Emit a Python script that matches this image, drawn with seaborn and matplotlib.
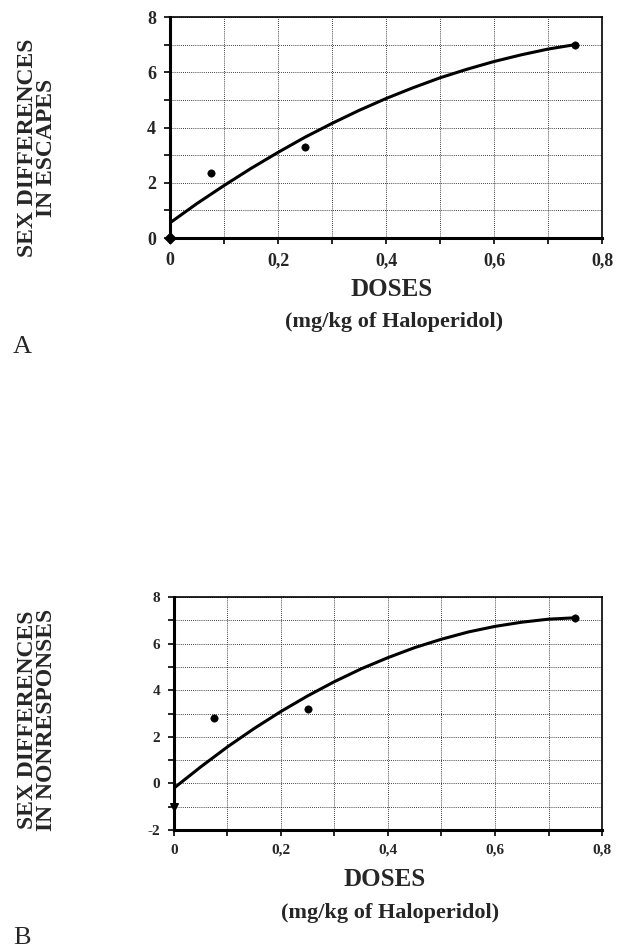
import numpy as np
import pandas as pd
import matplotlib.pyplot as plt
import seaborn as sns
from matplotlib.ticker import MultipleLocator, FuncFormatter

# observed points (dose in mg/kg, sex difference)
doses = [0.075, 0.25, 0.75]
escapes = [2.35, 3.3, 7.0]
nonresponses = [2.8, 3.2, 7.1]
esc_zero = 0.0
non_zero = -1.0

# fitted trend line
curve_x = [0, 0.05, 0.1, 0.15, 0.2, 0.25, 0.3, 0.35, 0.4, 0.45, 0.5, 0.55, 0.6, 0.65, 0.7, 0.75]
curve_esc = [0.55, 1.25, 1.90, 2.52, 3.10, 3.65, 4.15, 4.62, 5.05, 5.44, 5.80, 6.11, 6.39, 6.63, 6.84, 7.0]
curve_non = [-0.2, 0.71, 1.57, 2.36, 3.09, 3.76, 4.37, 4.92, 5.40, 5.83, 6.19, 6.50, 6.74, 6.92, 7.05, 7.11]

sns.set_style("white")
plt.rcParams['font.family'] = ['Liberation Serif', 'DejaVu Serif']

fig = plt.figure(figsize=(6.42, 9.51), dpi=100)
axA = fig.add_axes([0.2648, 0.7497, 0.673, 0.2324])
axB = fig.add_axes([0.271, 0.1272, 0.6667, 0.245])

comma = FuncFormatter(lambda v, p: "0" if abs(v) < 1e-9 else f"{v:.1f}".replace(".", ","))


def draw(ax, cx, cy, py, zero_y, zero_marker, ylim, label_weight, label_size):
    sns.lineplot(x=cx, y=cy, ax=ax, color="black", linewidth=2.2)
    sns.scatterplot(x=doses, y=py, ax=ax, color="black", s=28, edgecolor="black", zorder=5)
    ax.scatter([0], [zero_y], marker=zero_marker, color="black", s=30, zorder=6, clip_on=False)
    ax.set_xlim(0, 0.8)
    ax.set_ylim(*ylim)
    ax.xaxis.set_major_locator(MultipleLocator(0.2))
    ax.xaxis.set_minor_locator(MultipleLocator(0.1))
    ax.yaxis.set_major_locator(MultipleLocator(2))
    ax.yaxis.set_minor_locator(MultipleLocator(1))
    ax.xaxis.set_major_formatter(comma)
    ax.yaxis.set_major_formatter(FuncFormatter(lambda v, p: f"{v:.0f}"))
    ax.grid(True, which="both", linestyle=(0, (1, 1.5)), color="black", linewidth=0.6)
    ax.tick_params(which="both", direction="out", length=4, width=1.2, color="black",
                   bottom=True, left=True)
    ax.tick_params(which="major", labelsize=label_size, pad=6)
    for lab in ax.get_xticklabels() + ax.get_yticklabels():
        lab.set_fontweight(label_weight)
    for s in ["left", "bottom"]:
        ax.spines[s].set_linewidth(2.2)
        ax.spines[s].set_color("black")
    for s in ["top", "right"]:
        ax.spines[s].set_linewidth(1.2)
        ax.spines[s].set_color("black")
        ax.spines[s].set_visible(True)
    ax.set_xlabel("")
    ax.set_ylabel("")


draw(axA, curve_x, curve_esc, escapes, esc_zero, "D", (0, 8), "semibold", 13)
draw(axB, curve_x, curve_non, nonresponses, non_zero, "v", (-2, 8), "bold", 11)

# y labels
fig.text(0.058, 1 - 148 / 951, "SEX DIFFERENCES\nIN ESCAPES", rotation=90, ha="center",
         va="center", fontsize=17, fontweight="bold", linespacing=0.85)
fig.text(0.058, 1 - 720 / 951, "SEX DIFFERENCES\nIN NONRESPONSES", rotation=90, ha="center",
         va="center", fontsize=17, fontweight="bold", linespacing=0.85)

# x labels
fig.text(392 / 642, 1 - 290 / 951, "DOSES", ha="center", va="center", fontsize=18, fontweight="bold")
fig.text(394 / 642, 1 - 322 / 951, "(mg/kg of Haloperidol)", ha="center", va="center",
         fontsize=16, fontweight="bold")
fig.text(385 / 642, 1 - 880 / 951, "DOSES", ha="center", va="center", fontsize=18, fontweight="bold")
fig.text(390 / 642, 1 - 913 / 951, "(mg/kg of Haloperidol)", ha="center", va="center",
         fontsize=16, fontweight="bold")

# panel letters
fig.text(22 / 642, 1 - 347 / 951, "A", ha="center", va="center", fontsize=19)
fig.text(22 / 642, 1 - 938 / 951, "B", ha="center", va="center", fontsize=19)

fig.savefig("out.png", dpi=100)
